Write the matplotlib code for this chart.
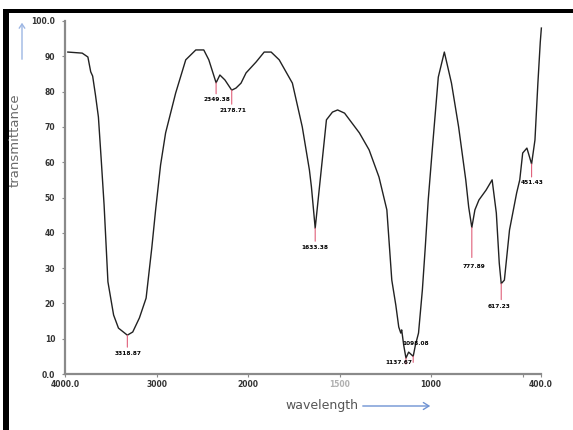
import numpy as np
import matplotlib
matplotlib.use("Agg")
import matplotlib.pyplot as plt
from matplotlib.patches import FancyArrowPatch, Rectangle
from matplotlib.transforms import blended_transform_factory

# FT-IR spectrum: wavenumber (cm-1) and transmittance (%)
wavenumber = [3969, 3812, 3750, 3719, 3698, 3667, 3635, 3604, 3573, 3531,
              3469, 3416, 3318.87, 3260, 3187, 3114, 3052, 3010, 2956, 2901,
              2791, 2681, 2571, 2484, 2429, 2349.38, 2308, 2253, 2178.71, 2132,
              2077, 2022, 1956, 1912, 1874, 1830, 1758, 1704, 1665, 1654,
              1633.38, 1610, 1572, 1539, 1511, 1473, 1392, 1339, 1285, 1242,
              1215, 1193, 1177, 1166, 1161, 1150, 1137.67, 1123, 1098.08, 1086,
              1069, 1048, 1032, 1016, 994, 961, 928, 889, 850, 811,
              795, 777.89, 761, 739, 700, 667, 644, 628, 617.23, 600,
              572, 533, 516, 500, 477, 451.43, 433, 417, 404, 398]
transmittance = [91.2, 90.9, 89.8, 85.6, 84.4, 79.0, 72.8, 60.6, 47.9, 26.1,
                 16.7, 13.0, 11.0, 11.9, 15.9, 21.5, 35.7, 46.5, 59.2, 68.3,
                 79.6, 89.0, 91.8, 91.8, 89.0, 82.5, 84.7, 83.3, 80.4, 81.0,
                 82.4, 85.3, 88.4, 91.2, 91.2, 89.0, 82.4, 70.0, 57.8, 53.0,
                 41.3, 53.0, 72.0, 74.2, 74.8, 73.9, 68.3, 63.5, 55.8, 46.5,
                 26.6, 19.5, 13.3, 11.6, 12.5, 8.2, 4.5, 6.2, 5.0, 8.2,
                 11.6, 23.8, 36.0, 49.3, 63.5, 84.1, 91.2, 82.4, 70.0, 55.0,
                 47.3, 41.5, 46.5, 49.3, 52.1, 55.0, 45.6, 31.4, 25.6, 26.6,
                 40.8, 51.3, 55.0, 62.6, 64.0, 59.5, 66.3, 82.4, 94.0, 98.0]

# labelled band positions
peak_wn = [3318.87, 2349.38, 2178.71, 1633.38, 1137.67, 1098.08, 777.89, 617.23, 451.43]

x_ticks = [4000, 3000, 2000, 1500, 1000, 500, 400]
x_tick_labels = ["4000.0", "3000", "2000", "1500", "1000", "", "400.0"]
y_ticks = [0, 10, 20, 30, 40, 50, 60, 70, 80, 90, 100]
y_tick_labels = ["0.0", "10", "20", "30", "40", "50", "60", "70", "80", "90", "100.0"]

# marker line length and label offset (dx, dy) in pixels, per band
label_layout = [(12, 1, -18), (11, 1, -17), (14, 1, -20), (13, 0, -19),
                (6, -7, -4), (6, 2, 13), (30, 2, -39), (16, -2, -23),
                (13, 1, -19)]

W, H = 573, 430
fig = plt.figure(figsize=(W / 100, H / 100), dpi=100)
fig.patch.set_facecolor("white")

# black frame (top edge and left bar)
fig.add_artist(Rectangle((5 / W, 1 - 13 / H), 1, 4.5 / H, transform=fig.transFigure,
                         color="black", lw=0))
fig.add_artist(Rectangle((3 / W, 0), 5.5 / W, 1 - 9 / H, transform=fig.transFigure,
                         color="black", lw=0))

left, right = 65 / W, 541 / W
bottom, top = 1 - 374 / H, 1 - 21 / H
ax = fig.add_axes([left, bottom, right - left, top - bottom])


def fwd(x):
    x = np.asarray(x, dtype=float)
    return np.where(x > 2000, 2000 + (x - 2000) / 2, x)


def inv(y):
    y = np.asarray(y, dtype=float)
    return np.where(y > 2000, 2000 + (y - 2000) * 2, y)


ax.set_xscale("function", functions=(fwd, inv))
ax.set_xlim(4000, 400)
ax.set_ylim(0, 100)

ax.plot(wavenumber, transmittance, color="#222222", lw=1.0, solid_joinstyle="round",
        clip_on=False)

px = 72 / 100  # points per pixel
wn_arr = np.array(wavenumber)
t_arr = np.array(transmittance)
for w, (ln, dx, dy) in zip(peak_wn, label_layout):
    t = float(t_arr[np.argmin(np.abs(wn_arr - w))])
    ax.annotate("", xy=(w, t), xytext=(0, -ln * px), textcoords="offset points",
                arrowprops=dict(arrowstyle="-", color="#e0607a", lw=0.8,
                                shrinkA=0, shrinkB=0))
    ax.annotate(f"{w:.2f}", xy=(w, t), xytext=(dx * px, dy * px),
                textcoords="offset points", fontsize=4.2, fontweight="bold",
                color="black", ha="center", va="center")

for s in ["top", "right"]:
    ax.spines[s].set_visible(False)
for s in ["left", "bottom"]:
    ax.spines[s].set_color("#8a8a8a")
    ax.spines[s].set_linewidth(1.6)

ax.set_xticks(x_ticks)
ax.set_xticklabels([])
ax.set_yticks(y_ticks)
ax.set_yticklabels(y_tick_labels)
ax.xaxis.set_minor_locator(matplotlib.ticker.NullLocator())
ax.tick_params(axis="both", length=2, width=0.8, color="#8a8a8a", pad=5,
               labelsize=5.5, labelcolor="#333333")
for lbl in ax.get_yticklabels():
    lbl.set_fontweight("bold")

# x tick labels drawn under the axis
trans = blended_transform_factory(ax.transData, ax.transAxes)
for xv, lab in zip(x_ticks, x_tick_labels):
    col = "#b0b0b0" if xv == 1500 else "#333333"
    ax.text(xv, -0.03, lab, transform=trans, fontsize=5.5, fontweight="bold",
            color=col, ha="center", va="center")

# axis captions with their arrows
fig.text(15 / W, 1 - 140 / H, "transmittance", rotation=90, fontsize=9.5,
         color="#6a6a6a", ha="center", va="center")
fig.text(322 / W, 1 - 406 / H, "wavelength", fontsize=9, color="#555555",
         ha="center", va="center")
fig.add_artist(FancyArrowPatch((22 / W, 1 - 62 / H), (22 / W, 1 - 20 / H),
                               transform=fig.transFigure,
                               arrowstyle="->,head_length=3,head_width=2",
                               color="#9db6e3", lw=1.0))
fig.add_artist(FancyArrowPatch((360 / W, 1 - 406 / H), (433 / W, 1 - 406 / H),
                               transform=fig.transFigure,
                               arrowstyle="->,head_length=4,head_width=2.5",
                               color="#6f93d3", lw=1.0))

fig.savefig("out.png", dpi=100)
